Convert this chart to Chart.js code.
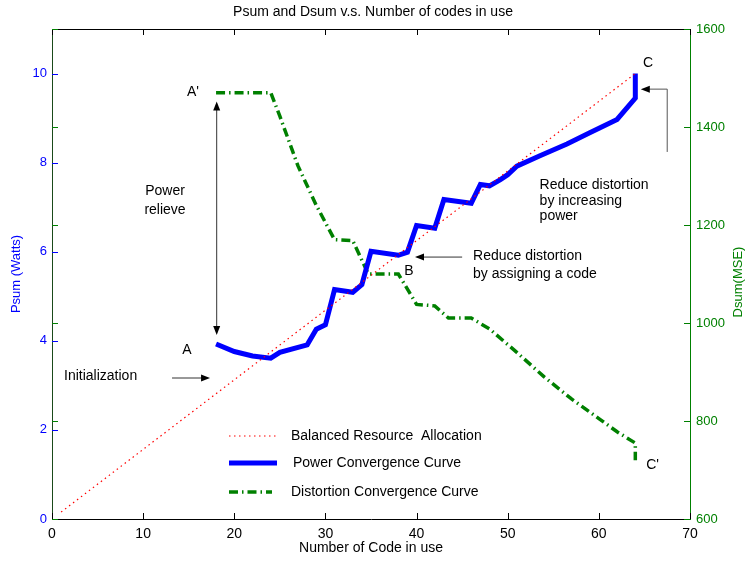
<!DOCTYPE html>
<html><head><meta charset="utf-8">
<script src="https://cdn.jsdelivr.net/npm/chart.js@4/dist/chart.umd.min.js"></script>
<style>html,body{margin:0;padding:0;background:#fff}</style>
</head><body>
<canvas id="c" width="746" height="562"></canvas>
<script>
const FONT = "'Liberation Sans', Arial, Helvetica, sans-serif";

// ---- data ----
const balancedX = [1, 64];
const balancedY = [0.156, 10];

const powerX = [18, 20, 22, 24, 25, 28, 29, 30, 31, 33, 34, 35, 38, 39, 40, 42, 43, 46, 47, 48, 49.2, 50, 51, 53.6, 56.5, 59, 62, 64, 64];
const powerY = [3.93, 3.76, 3.66, 3.61, 3.74, 3.91, 4.26, 4.36, 5.15, 5.09, 5.26, 6.01, 5.92, 5.99, 6.59, 6.53, 7.17, 7.09, 7.51, 7.48, 7.62, 7.73, 7.92, 8.16, 8.42, 8.67, 8.97, 9.45, 10.0];

const distortionX = [18, 24, 25, 27, 29, 31, 33, 34.7, 38, 40, 42, 43.5, 46, 48, 51, 54, 57, 60, 62, 64, 64];
const distortionY = [1470, 1470, 1422, 1320, 1240, 1170, 1168, 1100, 1100, 1038, 1035, 1010, 1010, 988, 940, 890, 845, 805, 778, 755, 720];

const xTicks = [0, 10, 20, 30, 40, 50, 60, 70];
const psumTicks = [0, 2, 4, 6, 8, 10];
const dsumTicks = [600, 800, 1000, 1200, 1400, 1600];

const legendLabels = ['Balanced Resource  Allocation', 'Power Convergence Curve', 'Distortion Convergence Curve'];

function pts(xs, ys) { return xs.map((v, i) => ({x: v, y: ys[i]})); }

// annotations in data units (x, left axis y)
const notes = [
  {t: "A'", x: 15.47, y: 9.58, a: 'center'},
  {t: 'A', x: 14.8, y: 3.79, a: 'center'},
  {t: 'Initialization', x: 1.32, y: 3.21, a: 'left'},
  {t: 'Power', x: 12.4, y: 7.36, a: 'center'},
  {t: 'relieve', x: 12.4, y: 6.94, a: 'center'},
  {t: 'B', x: 39.17, y: 5.57, a: 'center'},
  {t: 'Reduce distortion', x: 46.2, y: 5.90, a: 'left'},
  {t: 'by assigning a code', x: 46.2, y: 5.50, a: 'left'},
  {t: 'C', x: 65.4, y: 10.24, a: 'center'},
  {t: 'Reduce distortion', x: 53.5, y: 7.50, a: 'left'},
  {t: 'by increasing', x: 53.5, y: 7.14, a: 'left'},
  {t: 'power', x: 53.5, y: 6.79, a: 'left'},
  {t: "C'", x: 65.9, y: 1.21, a: 'center'}
];

function arrowHead(ctx, x1, y1, x2, y2) {
  const ang = Math.atan2(y2 - y1, x2 - x1);
  const L = 9, W = 3.5;
  ctx.beginPath();
  ctx.moveTo(x2, y2);
  ctx.lineTo(x2 - L * Math.cos(ang) + W * Math.sin(ang), y2 - L * Math.sin(ang) - W * Math.cos(ang));
  ctx.lineTo(x2 - L * Math.cos(ang) - W * Math.sin(ang), y2 - L * Math.sin(ang) + W * Math.cos(ang));
  ctx.closePath();
  ctx.fill();
}

const decor = {
  id: 'decor',
  afterDraw(chart) {
    const ctx = chart.ctx, a = chart.chartArea;
    const sx = chart.scales.x, sy = chart.scales.y, sy2 = chart.scales.y2;
    ctx.save();
    // top border
    ctx.strokeStyle = '#000'; ctx.lineWidth = 1;
    ctx.beginPath(); ctx.moveTo(a.left, a.top + 0.5); ctx.lineTo(a.right, a.top + 0.5); ctx.stroke();
    // x ticks (inward) top & bottom
    const TL = 6;
    xTicks.forEach(v => {
      const px = Math.round(sx.getPixelForValue(v)) + 0.5;
      ctx.beginPath();
      ctx.moveTo(px, a.bottom); ctx.lineTo(px, a.bottom - TL);
      ctx.moveTo(px, a.top); ctx.lineTo(px, a.top + TL);
      ctx.stroke();
    });
    // left blue ticks
    ctx.strokeStyle = '#0000ff';
    psumTicks.forEach(v => {
      const py = Math.round(sy.getPixelForValue(v)) + 0.5;
      ctx.beginPath(); ctx.moveTo(a.left, py); ctx.lineTo(a.left + TL, py); ctx.stroke();
    });
    // green ticks on both sides
    ctx.strokeStyle = '#008000';
    dsumTicks.forEach(v => {
      const py = Math.round(sy2.getPixelForValue(v)) + 0.5;
      ctx.beginPath();
      ctx.moveTo(a.left, py); ctx.lineTo(a.left + TL, py);
      ctx.moveTo(a.right, py); ctx.lineTo(a.right - TL, py);
      ctx.stroke();
    });
    // right axis title
    ctx.fillStyle = '#008000';
    ctx.font = '13px ' + FONT;
    ctx.textAlign = 'center'; ctx.textBaseline = 'middle';
    ctx.save();
    ctx.translate(738, (a.top + a.bottom) / 2 + 8);
    ctx.rotate(-Math.PI / 2);
    ctx.fillText('Dsum(MSE)', 0, 0);
    ctx.restore();

    // legend
    const ds = chart.data.datasets;
    const legY = [436, 463, 492];
    const legTX = [291, 293, 291];
    ds.forEach((d, i) => {
      ctx.save();
      ctx.strokeStyle = d.borderColor; ctx.lineWidth = d.borderWidth;
      ctx.setLineDash(d.borderDash || []);
      ctx.beginPath(); ctx.moveTo(229, legY[i]); ctx.lineTo(i === 2 ? 272 : 277, legY[i]); ctx.stroke();
      ctx.restore();
      ctx.fillStyle = '#000'; ctx.font = '14px ' + FONT;
      ctx.textAlign = 'left'; ctx.textBaseline = 'middle';
      ctx.fillText(legendLabels[i], legTX[i], legY[i]);
    });

    // annotations
    ctx.fillStyle = '#000'; ctx.font = '14px ' + FONT; ctx.textBaseline = 'middle';
    notes.forEach(n => {
      ctx.textAlign = n.a;
      ctx.fillText(n.t, sx.getPixelForValue(n.x), sy.getPixelForValue(n.y));
    });
    const P = (x, y) => [sx.getPixelForValue(x), sy.getPixelForValue(y)];
    ctx.strokeStyle = '#333'; ctx.fillStyle = '#000'; ctx.lineWidth = 1;
    // Initialization arrow
    let [x1, y1] = P(13.17, 3.165), [x2, y2] = P(17.34, 3.165);
    ctx.beginPath(); ctx.moveTo(x1, y1); ctx.lineTo(x2 - 6, y2); ctx.stroke(); arrowHead(ctx, x1, y1, x2, y2);
    // Power relieve double arrow
    [x1, y1] = P(18.07, 9.37); [x2, y2] = P(18.07, 4.13);
    ctx.beginPath(); ctx.moveTo(x1, y1 + 6); ctx.lineTo(x2, y2 - 6); ctx.stroke();
    arrowHead(ctx, x2, y2, x1, y1); arrowHead(ctx, x1, y1, x2, y2);
    // B arrow
    [x1, y1] = P(45.0, 5.88); [x2, y2] = P(39.83, 5.88);
    ctx.beginPath(); ctx.moveTo(x1, y1); ctx.lineTo(x2 + 6, y2); ctx.stroke(); arrowHead(ctx, x1, y1, x2, y2);
    // C arrow
    const [cx0, cy0] = P(67.5, 8.24), [cx1, cy1] = P(67.5, 9.65), [cx2, cy2] = P(64.6, 9.65);
    ctx.strokeStyle = '#555';
    ctx.beginPath(); ctx.moveTo(cx0, cy0); ctx.lineTo(cx1, cy1); ctx.lineTo(cx2 + 6, cy2); ctx.stroke();
    arrowHead(ctx, cx1, cy1, cx2, cy2);
    ctx.restore();
  }
};

new Chart(document.getElementById('c'), {
  type: 'scatter',
  data: {
    datasets: [
      {label: legendLabels[0], data: pts(balancedX, balancedY), yAxisID: 'y', showLine: true,
       borderColor: '#ff0000', borderWidth: 1.2, borderDash: [1.5, 3.5], pointRadius: 0, tension: 0},
      {label: legendLabels[1], data: pts(powerX, powerY), yAxisID: 'y', showLine: true,
       borderColor: '#0000ff', borderWidth: 5, pointRadius: 0, tension: 0, borderJoinStyle: 'miter'},
      {label: legendLabels[2], data: pts(distortionX, distortionY), yAxisID: 'y2', showLine: true,
       borderColor: '#008000', borderWidth: 3.5, borderDash: [9, 4, 1.5, 4], pointRadius: 0, tension: 0}
    ]
  },
  options: {
    responsive: false, animation: false, devicePixelRatio: 1,
    layout: {padding: 0},
    plugins: {
      legend: {display: false}, tooltip: {enabled: false},
      title: {display: true, text: 'Psum and Dsum v.s. Number of codes in use', color: '#000',
              font: {family: FONT, size: 14, weight: 'normal'}, padding: {top: 4, bottom: 8.2}}
    },
    scales: {
      x: {type: 'linear', min: 0, max: 70,
          afterBuildTicks: s => { s.ticks = xTicks.map(v => ({value: v})); },
          ticks: {color: '#000', font: {family: FONT, size: 14}, padding: 7, callback: v => String(v)},
          grid: {display: false, drawTicks: false},
          border: {display: true, color: '#000', width: 1},
          title: {display: true, text: 'Number of Code in use', color: '#000', font: {family: FONT, size: 14}, padding: {top: 0, bottom: 5}},
          afterFit: s => { s.height = 43; }},
      y: {type: 'linear', position: 'left', min: 0, max: 11,
          afterBuildTicks: s => { s.ticks = psumTicks.map(v => ({value: v})); },
          ticks: {color: '#0000ff', font: {family: FONT, size: 13}, padding: 5, callback: v => String(v)},
          grid: {display: false, drawTicks: false},
          border: {display: true, color: '#1a4a1a', width: 1},
          title: {display: true, text: 'Psum (Watts)', color: '#0000ff', font: {family: FONT, size: 13}, padding: {top: 9, bottom: 0}},
          afterFit: s => { s.width = 52; }},
      y2: {type: 'linear', position: 'right', min: 600, max: 1600,
          afterBuildTicks: s => { s.ticks = dsumTicks.map(v => ({value: v})); },
          ticks: {color: '#008000', font: {family: FONT, size: 13}, padding: 6, callback: v => String(v)},
          grid: {display: false, drawTicks: false},
          border: {display: true, color: '#008000', width: 1},
          afterFit: s => { s.width = 56; }}
    }
  },
  plugins: [decor]
});
</script>
</body></html>
